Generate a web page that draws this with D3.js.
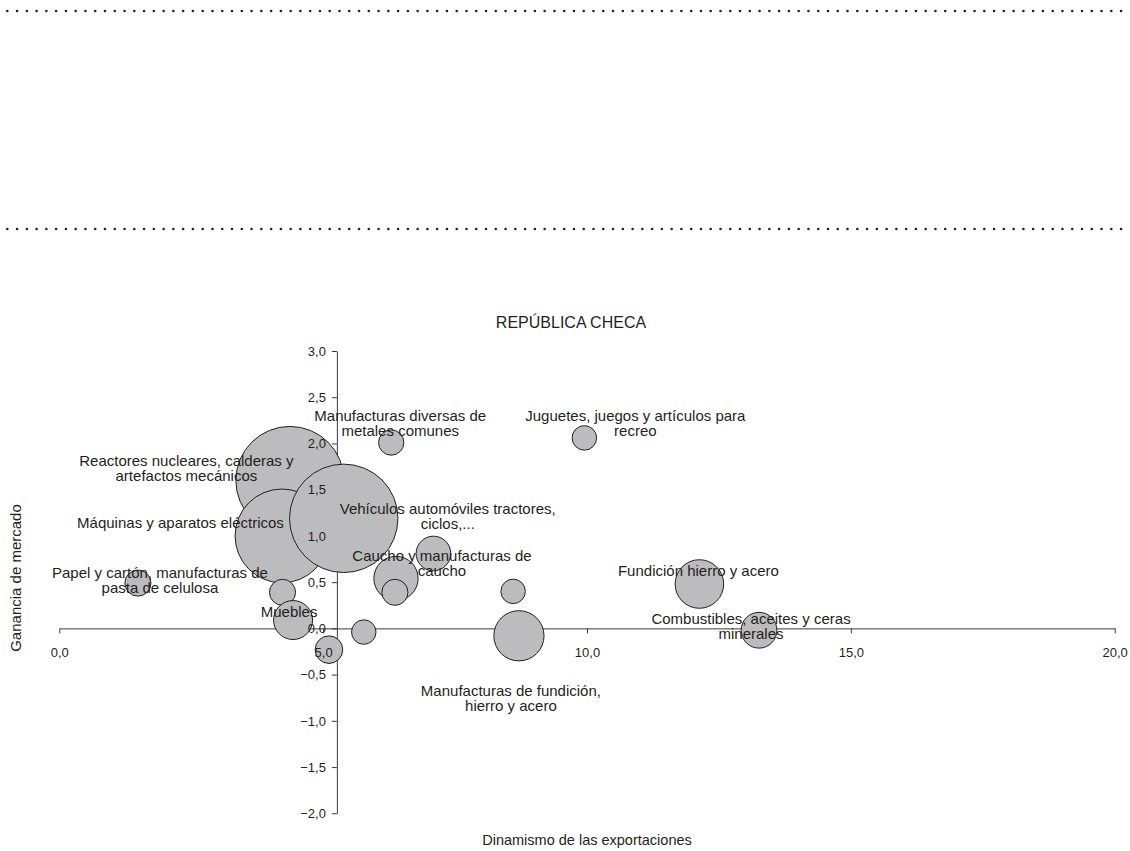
<!DOCTYPE html>
<html>
<head>
<meta charset="utf-8">
<script src="https://cdn.jsdelivr.net/npm/d3@7"></script>
<style>
  html, body { margin: 0; padding: 0; background: #fff; }
  svg { display: block; font-family: "Liberation Sans", Arial, Helvetica, sans-serif; }
</style>
</head>
<body>
<svg id="chart" width="1130" height="851"></svg>
<script>
// ---------- DATA ----------
const categories = [
  "Reactores nucleares, calderas y artefactos mecánicos",
  "Máquinas y aparatos eléctricos",
  "Vehículos automóviles tractores, ciclos,...",
  "Manufacturas diversas de metales comunes",
  "Juguetes, juegos y artículos para recreo",
  "Caucho y manufacturas de caucho",
  "Producto 7",
  "Producto 8",
  "Producto 9",
  "Manufacturas de fundición, hierro y acero",
  "Fundición hierro y acero",
  "Combustibles, aceites y ceras minerales",
  "Papel y cartón, manufacturas de pasta de celulosa",
  "Producto 14",
  "Muebles",
  "Producto 16",
  "Producto 17"
];
// Dinamismo de las exportaciones (x)
const dinamismo = [4.37, 4.22, 5.39, 6.29, 9.95, 6.38, 7.09, 6.36, 8.60, 8.71, 12.13, 13.26, 1.49, 4.23, 4.43, 5.11, 5.77];
// Ganancia de mercado (y)
const ganancia  = [1.60, 1.00, 1.19, 2.01, 2.06, 0.54, 0.81, 0.39, 0.40, -0.08, 0.48, -0.02, 0.49, 0.39, 0.09, -0.23, -0.04];
// Bubble size (peso)
const peso      = [29.2, 22.0, 29.4, 1.6, 1.5, 4.9, 3.0, 1.7, 1.5, 6.3, 5.9, 3.2, 1.7, 1.7, 3.8, 1.9, 1.5];
// Visible label lines
const labelLines = [
  ["Reactores nucleares, calderas y", "artefactos mecánicos"],
  ["Máquinas y aparatos eléctricos"],
  ["Vehículos automóviles tractores,", "ciclos,..."],
  ["Manufacturas diversas de", "metales comunes"],
  ["Juguetes, juegos y artículos para", "recreo"],
  ["Caucho y manufacturas de", "caucho"],
  [], [], [],
  ["Manufacturas de fundición,", "hierro y acero"],
  ["Fundición hierro y acero"],
  ["Combustibles, aceites y ceras", "minerales"],
  ["Papel y cartón, manufacturas de", "pasta de celulosa"],
  [],
  ["Muebles"],
  [], []
];
const xTicks = [0, 5, 10, 15, 20];
const yTicks = [-2, -1.5, -1, -0.5, 0, 0.5, 1, 1.5, 2, 2.5, 3];
const title = "REPÚBLICA CHECA";
const xTitle = "Dinamismo de las exportaciones";
const yTitle = "Ganancia de mercado";

// ---------- LAYOUT ----------
// label offsets (px) of first line centre relative to bubble centre
const labelOffsets = [
  [-103.5, -20], [-101.5, -13], [104, -10], [9, -27], [51, -22], [46, -23],
  [0, 0], [0, 0], [0, 0],
  [-8, 55], [-1, -13.6], [-8, -11], [22, -10.6], [0, 0], [-4, -8], [0, 0], [0, 0]
];
const yAxisCrossAt = 5.26;

const svg = d3.select("#chart");
const x = d3.scaleLinear().domain([0, 20]).range([59.3, 1114.7]);
const y = d3.scaleLinear().domain([-2, 3]).range([813.3, 351]);
const r = d3.scaleSqrt().domain([0, 100]).range([0, 100]);
const fmt = v => d3.format(".1f")(v).replace(".", ",");

const data = categories.map((c, i) => ({
  name: c, x: dinamismo[i], y: ganancia[i], s: peso[i],
  lines: labelLines[i], off: labelOffsets[i]
}));

// dotted decorative rules
[11, 229].forEach(yy => {
  svg.append("line")
    .attr("x1", 7.3).attr("x2", 1126).attr("y1", yy).attr("y2", yy)
    .attr("stroke", "#222").attr("stroke-width", 2.6)
    .attr("stroke-linecap", "round").attr("stroke-dasharray", "0 9.77");
});

// title
svg.append("text").attr("x", 571).attr("y", 327.5).attr("text-anchor", "middle")
  .attr("font-size", 16).attr("fill", "#231f20").text(title);

// axes (lines only, below bubbles)
const xAxis = d3.axisBottom(x).tickValues(xTicks).tickSize(5).tickSizeOuter(0).tickPadding(14).tickFormat(fmt);
const yAxis = d3.axisLeft(y).tickValues(yTicks).tickSize(5).tickSizeOuter(0).tickPadding(6).tickFormat(fmt);

function drawAxes(showLines, showText) {
  const gx = svg.append("g").attr("transform", `translate(0,${y(0)})`).call(xAxis);
  const gy = svg.append("g").attr("transform", `translate(${x(yAxisCrossAt)},0)`).call(yAxis);
  [gx, gy].forEach(g => {
    g.selectAll("path, line").attr("stroke", "#3a3a3a").attr("stroke-width", 1)
      .style("display", showLines ? null : "none");
    g.selectAll("text").attr("font-size", 13).attr("fill", "#231f20")
      .attr("font-family", "\"Liberation Sans\", Arial, sans-serif")
      .style("display", showText ? null : "none");
  });
}
drawAxes(true, false);

// bubbles
svg.append("g").selectAll("circle").data(data).join("circle")
  .attr("cx", d => x(d.x)).attr("cy", d => y(d.y)).attr("r", d => r(d.s))
  .attr("fill", "#bcbcbe").attr("stroke", "#231f20").attr("stroke-width", 1);

// tick labels on top
drawAxes(false, true);

// bubble labels
const lg = svg.append("g").attr("font-size", 15).attr("fill", "#231f20").attr("text-anchor", "middle");
data.forEach(d => {
  d.lines.forEach((ln, k) => {
    lg.append("text")
      .attr("x", x(d.x) + d.off[0])
      .attr("y", y(d.y) + d.off[1] + k * 15)
      .attr("dy", "0.35em")
      .text(ln);
  });
});

// axis titles
svg.append("text").attr("x", 587).attr("y", 845).attr("text-anchor", "middle")
  .attr("font-size", 14.5).attr("fill", "#231f20").text(xTitle);
svg.append("text").attr("transform", "translate(20.5,578) rotate(-90)")
  .attr("text-anchor", "middle").attr("font-size", 15).attr("fill", "#231f20").text(yTitle);
</script>
</body>
</html>
